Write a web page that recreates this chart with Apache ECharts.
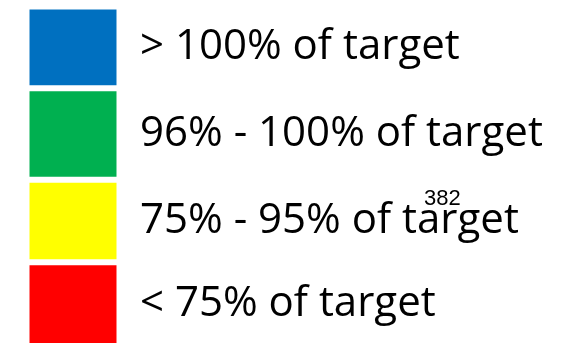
<!DOCTYPE html>
<html>
<head>
<meta charset="utf-8">
<script src="https://cdn.jsdelivr.net/npm/echarts@6/dist/echarts.min.js"></script>
<style>html,body{margin:0;padding:0;background:#fff}#c{width:564px;height:346px}</style>
</head>
<body>
<div id="c"></div>
<script>
// legend bands, bottom to top
var bandNames = ['< 75% of target', '75% - 95% of target', '96% - 100% of target', '> 100% of target'];
var bandValues = [84, 83, 92, 82];
var bandColors = ['#FF0000', '#FFFF00', '#00B050', '#0070C0'];
var categories = ['Legend'];
var noteText = '382';

var chart = echarts.init(document.getElementById('c'), null, {renderer: 'canvas'});
var series = bandNames.map(function (name, i) {
  return {
    name: name,
    type: 'bar',
    stack: 'all',
    barWidth: 93,
    data: [bandValues[i]],
    itemStyle: {color: bandColors[i], borderColor: '#ffffff', borderWidth: 3},
    label: {
      show: true,
      position: 'right',
      distance: 20.5,
      formatter: name,
      color: '#000',
      fontFamily: 'Open Sans',
      fontSize: 42
    },
    emphasis: {disabled: true},
    animation: false
  };
});
chart.setOption({
  animation: false,
  grid: {left: 26.5, top: 6.5, width: 93, bottom: -1.5, containLabel: false},
  xAxis: {type: 'category', data: categories, show: false},
  yAxis: {type: 'value', min: 0, max: 341, show: false},
  series: series,
  graphic: [{
    type: 'text',
    left: 424,
    top: 188,
    style: {text: noteText, font: '22px "Liberation Sans"', fill: '#000'}
  }]
});
</script>
</body>
</html>
